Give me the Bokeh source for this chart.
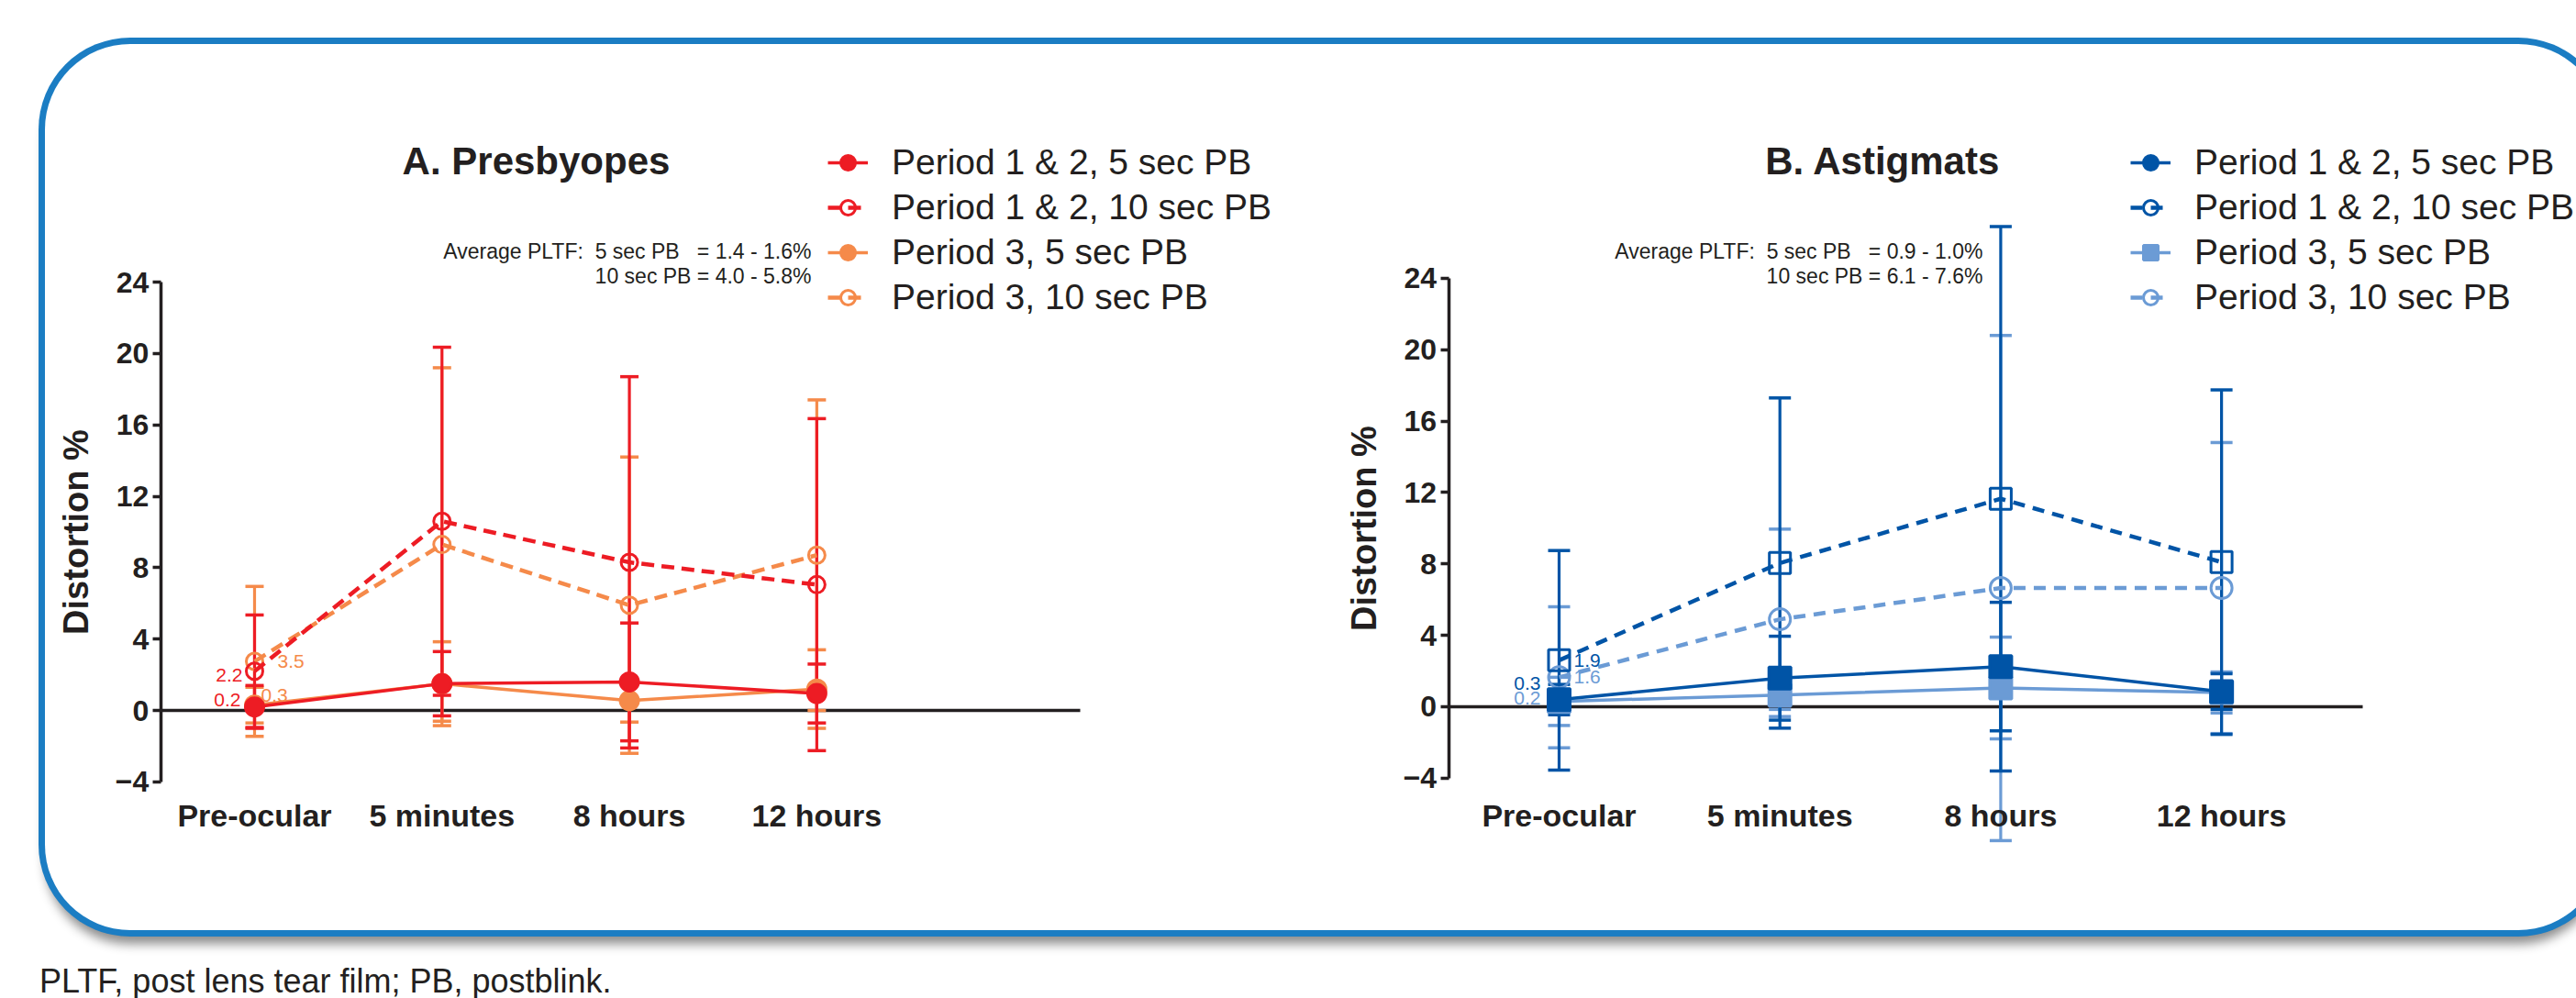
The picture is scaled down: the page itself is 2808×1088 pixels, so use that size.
from bokeh.plotting import figure
from bokeh.models import (ColumnDataSource, Range1d, FixedTicker, LinearAxis, Whisker, TeeHead,
                          Legend, LegendItem, Label, Row, Column, Div)
from bokeh.core.properties import value
from bokeh.embed import file_html
from bokeh.resources import INLINE

# ---------------- data ----------------
categories = ["Pre-ocular", "5 minutes", "8 hours", "12 hours"]
y_ticks = [-4, 0, 4, 8, 12, 16, 20, 24]
legend_labels = ["Period 1 & 2, 5 sec PB", "Period 1 & 2, 10 sec PB",
                 "Period 3, 5 sec PB", "Period 3, 10 sec PB"]

# Panel A. Presbyopes (mean, SD)
a_p12_5_mean = [0.2, 1.5, 1.6, 0.95]
a_p12_5_sd = [1.2, 1.8, 3.3, 1.65]
a_p12_10_mean = [2.2, 10.6, 8.3, 7.05]
a_p12_10_sd = [3.15, 9.75, 10.4, 9.3]
a_p3_5_mean = [0.3, 1.5, 0.55, 1.2]
a_p3_5_sd = [1.0, 2.35, 1.2, 2.2]
a_p3_10_mean = [2.75, 9.3, 5.9, 8.7]
a_p3_10_sd = [4.2, 9.9, 8.3, 8.7]
a_point_labels = ["0.2", "2.2", "0.3", "3.5"]   # order: P1&2 5s, P1&2 10s, P3 5s, P3 10s

# Panel B. Astigmats (mean, SD)
b_p12_5_mean = [0.4, 1.6, 2.25, 0.85]
b_p12_5_sd = [0.85, 2.35, 3.6, 1.0]
b_p12_10_mean = [2.6, 8.05, 11.65, 8.1]
b_p12_10_sd = [6.15, 9.25, 15.25, 9.65]
b_p3_5_mean = [0.3, 0.65, 1.05, 0.8]
b_p3_5_sd = [1.35, 1.2, 2.85, 1.15]
b_p3_10_mean = [1.65, 4.9, 6.65, 6.65]
b_p3_10_sd = [3.95, 5.05, 14.15, 8.15]
b_point_labels = ["0.3", "1.9", "0.2", "1.6"]

avg_a = ["Average PLTF:\u00a0\u00a05 sec PB\u00a0\u00a0\u00a0= 1.4 - 1.6%", "10 sec PB = 4.0 - 5.8%"]
avg_b = ["Average PLTF:\u00a0\u00a05 sec PB\u00a0\u00a0\u00a0= 0.9 - 1.0%", "10 sec PB = 6.1 - 7.6%"]
footnote = "PLTF, post lens tear film; PB, postblink."

# ---------------- style ----------------
FONT = "Liberation Sans"
INK = "#231f20"
RED = "#ed1c24"
ORANGE = "#f58a4a"
DARK = "#0054a6"
LIGHT = "#6b9bd5"
BORDER = "#1b7dc3"

xs = list(range(len(categories)))
NAN = float("nan")


def make_panel(width, height, x_rng, y_rng, x_axis_end, series, title, title_pos, avg, avg_pos,
               legend_loc, label_style, legend_override=None):
    p = figure(width=width, height=height, x_range=Range1d(*x_rng), y_range=Range1d(*y_rng),
               output_backend="svg", toolbar_location=None, title=None,
               x_axis_type=None, y_axis_type=None,
               min_border_left=0, min_border_right=0, min_border_top=0, min_border_bottom=0)
    p.background_fill_color = None
    p.border_fill_color = None
    p.outline_line_color = None
    p.grid.visible = False

    x_axis_start = -0.5
    # y axis
    ya = LinearAxis(fixed_location=x_axis_start, ticker=FixedTicker(ticks=y_ticks),
                    bounds=(min(y_ticks), max(y_ticks)), axis_label="Distortion %",
                    axis_label_text_font=FONT, axis_label_text_font_size="38px",
                    axis_label_text_font_style="bold", axis_label_text_color=INK,
                    axis_label_standoff=19,
                    major_label_text_font=FONT, major_label_text_font_size="32px",
                    major_label_text_font_style="bold", major_label_text_color=INK,
                    major_label_standoff=4, major_tick_out=9, major_tick_in=0,
                    minor_tick_out=0, minor_tick_in=0, axis_line_width=3.5,
                    axis_line_color=INK, major_tick_line_width=3.5, major_tick_line_color=INK)
    p.add_layout(ya, "left")

    # zero line (x axis line with small ticks, no labels)
    x0 = LinearAxis(fixed_location=0, ticker=FixedTicker(ticks=xs), bounds=(x_axis_start, x_axis_end),
                    axis_line_color=INK, axis_line_width=3.5, major_tick_line_color=INK,
                    major_tick_line_width=2, major_tick_out=7, major_tick_in=0,
                    minor_tick_line_color=None, major_label_text_color=None, level="underlay")
    p.add_layout(x0, "below")

    # category labels below the y axis
    xl = LinearAxis(fixed_location=min(y_ticks), ticker=FixedTicker(ticks=xs),
                    major_label_overrides={i: c for i, c in zip(xs, categories)},
                    axis_line_color=None, major_tick_line_color=None, minor_tick_line_color=None,
                    major_tick_out=0, major_tick_in=0,
                    major_label_text_font=FONT, major_label_text_font_size="34px",
                    major_label_text_font_style="bold", major_label_text_color=INK,
                    major_label_standoff=label_style["x_standoff"])
    p.add_layout(xl, "below")

    # error bars: period 3 first, then period 1&2 on top
    order = [2, 3, 0, 1]
    for i in order:
        s = series[i]
        src = ColumnDataSource(dict(
            base=xs,
            upper=[m + d for m, d in zip(s["mean"], s["sd"])],
            lower=[m - d for m, d in zip(s["mean"], s["sd"])]))
        p.add_layout(Whisker(source=src, base="base", upper="upper", lower="lower",
                             line_color=s["color"], line_width=3.2, level="underlay",
                             upper_head=TeeHead(size=s["cap"], line_color=s["color"], line_width=3.5),
                             lower_head=TeeHead(size=s["cap"], line_color=s["color"], line_width=3.5)))

    rends = {}
    for i in order:
        s = series[i]
        src = ColumnDataSource(dict(x=xs, y=s["mean"]))
        if s["dash"]:
            lr = p.line("x", "y", source=src, line_color=s["color"], line_width=4.5,
                        line_dash=s["dash"])
        else:
            lr = p.line("x", "y", source=src, line_color=s["color"], line_width=3.5)
        sr = p.scatter("x", "y", source=src, marker=s["marker"], size=s["size"],
                       fill_color=s["color"] if s["filled"] else None,
                       line_color=s["color"], line_width=3)
        rends[i] = [lr, sr]

    # legend (optionally with legend-only glyphs, as in the original figure)
    items = []
    for i, lab in enumerate(legend_labels):
        if legend_override and i in legend_override:
            s = series[i]
            o = legend_override[i]
            blank = ColumnDataSource(dict(x=[NAN], y=[NAN]))   # legend-only glyph, draws nothing
            if s["dash"]:
                lr = p.line("x", "y", source=blank, line_color=s["color"], line_width=4.5,
                            line_dash=s["dash"])
            else:
                lr = p.line("x", "y", source=blank, line_color=s["color"], line_width=3.5)
            sr = p.scatter("x", "y", source=blank, marker=o["marker"], size=o["size"],
                           fill_color=s["color"] if o["filled"] else None,
                           line_color=s["color"], line_width=3)
            items.append(LegendItem(label=lab, renderers=[lr, sr]))
        else:
            items.append(LegendItem(label=lab, renderers=rends[i]))
    leg = Legend(items=items, location=legend_loc, orientation="vertical",
                 glyph_width=44, glyph_height=40, label_standoff=26, spacing=5,
                 padding=0, margin=0, border_line_color=None, background_fill_alpha=0,
                 label_text_font=FONT, label_text_font_size="39px",
                 label_text_color=INK, label_text_baseline="middle")
    p.add_layout(leg)

    # point value labels at the first time point
    for i, (txt, st) in enumerate(zip(label_style["labels"], label_style["style"])):
        s = series[i]
        p.text(x=[xs[0]], y=[s["mean"][0]], text=[txt], text_color=s["color"],
               text_font=value(FONT), text_font_size="21px", text_align=st[0],
               text_baseline="middle", x_offset=st[1], y_offset=st[2])

    # title and average annotation
    p.add_layout(Label(x=title_pos[0], y=title_pos[1], x_units="screen", y_units="screen",
                       text=title, text_font=FONT, text_font_size="42px",
                       text_font_style="bold", text_color=INK, text_align="center",
                       text_baseline="alphabetic"))
    for k, line in enumerate(avg):
        p.add_layout(Label(x=avg_pos[0], y=avg_pos[1][k], x_units="screen", y_units="screen",
                           text=line, text_font=FONT, text_font_size="23px",
                           text_color=INK, text_align="right", text_baseline="middle"))
    return p


series_a = [
    dict(mean=a_p12_5_mean, sd=a_p12_5_sd, color=RED, dash=None, marker="circle", size=20, filled=True, cap=20),
    dict(mean=a_p12_10_mean, sd=a_p12_10_sd, color=RED, dash="14 8", marker="circle", size=18, filled=False, cap=20),
    dict(mean=a_p3_5_mean, sd=a_p3_5_sd, color=ORANGE, dash=None, marker="circle", size=20, filled=True, cap=20),
    dict(mean=a_p3_10_mean, sd=a_p3_10_sd, color=ORANGE, dash="14 8", marker="circle", size=18, filled=False, cap=20),
]
series_b = [
    dict(mean=b_p12_5_mean, sd=b_p12_5_sd, color=DARK, dash=None, marker="square", size=24, filled=True, cap=24),
    dict(mean=b_p12_10_mean, sd=b_p12_10_sd, color=DARK, dash="13 9", marker="square", size=23, filled=False, cap=24),
    dict(mean=b_p3_5_mean, sd=b_p3_5_sd, color=LIGHT, dash=None, marker="square", size=24, filled=True, cap=24),
    dict(mean=b_p3_10_mean, sd=b_p3_10_sd, color=LIGHT, dash="13 9", marker="circle", size=23, filled=False, cap=24),
]

# Panel A: figure at page x 49..1430, y 48..1014 (frame = whole figure)
pA = make_panel(
    width=1381, height=966, x_rng=(-1.116, 5.644), y_rng=(-12.33, 37.31), x_axis_end=4.405,
    series=series_a, title="A. Presbyopes",
    title_pos=(535, 839), avg=avg_a, avg_pos=(835, (741, 714)),
    legend_loc=(853, 668),
    label_style=dict(x_standoff=18, labels=a_point_labels,
                     style=[("right", -15, -8), ("right", -13, 4),
                            ("left", 7, -11), ("left", 25, 0)]))

# Panel B: figure at page x 1430..2838
pB = make_panel(
    width=1408, height=966, x_rng=(-1.1176, 4.732), y_rng=(-12.54, 37.10), x_axis_end=3.639,
    series=series_b, title="B. Astigmats",
    title_pos=(622, 839), avg=avg_b, avg_pos=(731, (741, 714)),
    legend_loc=(892, 668),
    label_style=dict(x_standoff=22, labels=b_point_labels,
                     style=[("right", -20, -18), ("left", 16, 0),
                            ("right", -20, -4), ("left", 16, 0)]),
    legend_override={0: dict(marker="circle", size=18, filled=True),
                     1: dict(marker="circle", size=18, filled=False)})

box = Row(children=[pA, pB], margin=(48, 0, 0, 49),
          styles={"border-radius": "93px",
                  "box-shadow": f"0 0 0 7px {BORDER}, 0 15px 12px rgba(0,0,0,0.45)",
                  "background-color": "white"})
clip = Column(children=[box], width=2808, height=1045, styles={"overflow": "hidden"})
note = Div(text=footnote, width=900, height=20, margin=(15, 0, 0, 43),
           styles={"font-family": "'Liberation Sans', Arial, sans-serif",
                   "font-size": "36px", "line-height": "20px", "color": INK,
                   "white-space": "nowrap"})
root = Column(children=[clip, note], width=2808, height=1080)

open("out.html", "w").write(file_html(root, INLINE))
